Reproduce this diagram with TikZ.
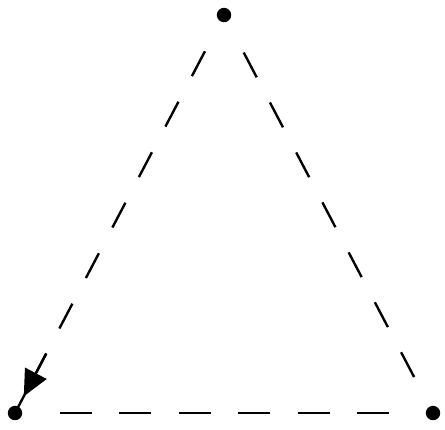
\documentclass[tikz,border=0pt]{standalone}
\usepackage{tikz}
\usetikzlibrary{arrows.meta}

\begin{document}
\begin{tikzpicture}[x=0.025cm, y=-0.025cm,
    dot/.style={circle, fill=black, inner sep=0pt, minimum size=0.36cm},
    dashline/.style={line width=1.7pt, black, dash pattern=on 0.7cm off 0.71cm}]
      \useasboundingbox (0, 0) rectangle (445, 429);

      % Corners
      \node[dot] (top) at (224, 15) {};
      \node[dot] (left) at (15, 413) {};
      \node[dot] (right) at (433, 413) {};

      % Left side (last dash runs on into the corner)
      \draw[dashline, shorten <=1.025cm,
        dash pattern=on 0.7cm off 0.725cm on 0.7cm off 0.725cm on 0.7cm off 0.725cm
          on 0.7cm off 0.725cm on 0.7cm off 0.725cm on 0.7cm off 0.725cm on 3cm off 1pt]
        (top.center) -- (left.center);

      % Arrow head near the left corner
      \path (top.center) -- coordinate[pos=0.85] (tail) coordinate[pos=0.958] (tip) (left.center);
      \draw[line width=1.7pt, -{Triangle[length=0.65cm, width=0.6cm]}] (tail) -- (tip);

      % Right side
      \draw[dashline, shorten <=1.06cm, shorten >=1cm] (top.center) -- (right.center);

      % Base
      \draw[dashline, shorten <=1.125cm, shorten >=1.1cm,
        dash pattern=on 0.8cm off 0.685cm] (left.center) -- (right.center);
    \end{tikzpicture}
\end{document}
